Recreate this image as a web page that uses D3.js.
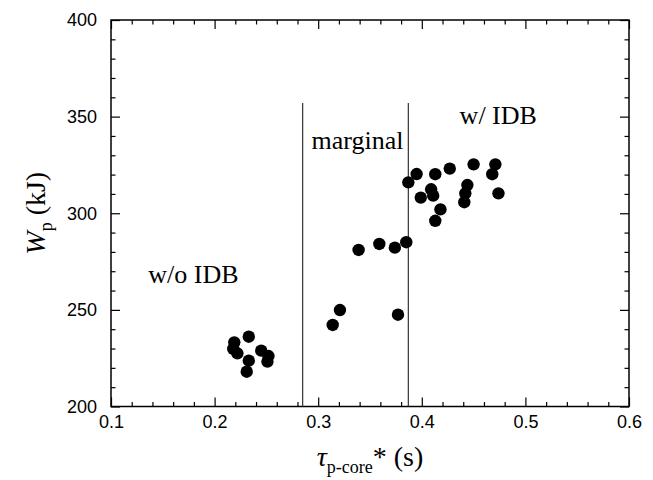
<!DOCTYPE html>
<html>
<head>
<meta charset="utf-8">
<script src="https://cdn.jsdelivr.net/npm/d3@7"></script>
<style>
  body { margin: 0; background: #fff; }
  svg { display: block; }
  .tick text { font-family: "Liberation Sans", Arial, sans-serif; font-size: 18px; fill: #000; }
  .serif { font-family: "Liberation Serif", "Times New Roman", serif; fill: #000; }
</style>
</head>
<body>
<svg id="chart" width="653" height="480"></svg>
<script>
const WIDTH = 653;
const HEIGHT = 480;

// tau_p-core* (s) and W_p (kJ)
const tauValues = [
  0.233, 0.219, 0.218, 0.222, 0.245, 0.252, 0.251, 0.233, 0.231,
  0.339, 0.359, 0.374, 0.385, 0.321, 0.314, 0.377,
  0.387, 0.395, 0.399, 0.413, 0.409, 0.411, 0.418, 0.413, 0.427,
  0.450, 0.471, 0.468, 0.444, 0.442, 0.441, 0.474
];
const wpValues = [
  236.1, 233.2, 229.8, 227.5, 228.9, 226.1, 223.2, 223.7, 218.0,
  281.0, 284.1, 282.2, 285.0, 249.9, 242.2, 247.5,
  316.0, 320.3, 308.1, 320.2, 312.4, 309.1, 302.0, 296.1, 323.1,
  325.3, 325.3, 320.2, 314.6, 310.3, 305.7, 310.3
];

const boundaryX = [0.285, 0.387];
const boundaryTop = 357;

const xTicks = [0.1, 0.2, 0.3, 0.4, 0.5, 0.6];
const yTicks = [200, 250, 300, 350, 400];

const regionLabels = ["w/o IDB", "marginal", "w/ IDB"];
const regionLabelX = [0.136, 0.2935, 0.4365];
const regionLabelY = [264, 333, 346];

const margin = { left: 111, right: 24, top: 20, bottom: 73.5 };

const svg = d3.select("#chart");
const x = d3.scaleLinear().domain([0.1, 0.6]).range([margin.left, WIDTH - margin.right]);
const y = d3.scaleLinear().domain([200, 400]).range([HEIGHT - margin.bottom, margin.top]);

const x0 = x.range()[0], x1 = x.range()[1];
const y0 = y.range()[0], y1 = y.range()[1];

// minor ticks
const xMinor = d3.range(0.1, 0.6001, 0.02).filter(v => Math.abs(v * 10 - Math.round(v * 10)) > 1e-6);
const yMinor = d3.range(200, 401, 10).filter(v => v % 50 !== 0);

function axisStyle(g) {
  g.select(".domain").remove();
  g.selectAll(".tick line").attr("stroke", "#000").attr("stroke-width", 1.2);
}

svg.append("g").attr("transform", `translate(0,${y0})`)
  .call(d3.axisBottom(x).tickValues(xTicks).tickFormat(d3.format(".1f")).tickSize(-9).tickPadding(9))
  .call(axisStyle);
svg.append("g").attr("transform", `translate(0,${y0})`)
  .call(d3.axisBottom(x).tickValues(xMinor).tickFormat("").tickSize(-4.5))
  .call(axisStyle);
svg.append("g").attr("transform", `translate(0,${y1})`)
  .call(d3.axisTop(x).tickValues(xTicks).tickFormat("").tickSize(-9))
  .call(axisStyle);
svg.append("g").attr("transform", `translate(0,${y1})`)
  .call(d3.axisTop(x).tickValues(xMinor).tickFormat("").tickSize(-4.5))
  .call(axisStyle);

svg.append("g").attr("transform", `translate(${x0},0)`)
  .call(d3.axisLeft(y).tickValues(yTicks).tickSize(-9).tickPadding(14))
  .call(axisStyle);
svg.append("g").attr("transform", `translate(${x0},0)`)
  .call(d3.axisLeft(y).tickValues(yMinor).tickFormat("").tickSize(-4.5))
  .call(axisStyle);
svg.append("g").attr("transform", `translate(${x1},0)`)
  .call(d3.axisRight(y).tickValues(yTicks).tickFormat("").tickSize(-9))
  .call(axisStyle);
svg.append("g").attr("transform", `translate(${x1},0)`)
  .call(d3.axisRight(y).tickValues(yMinor).tickFormat("").tickSize(-4.5))
  .call(axisStyle);

svg.selectAll(".tick text").attr("fill", "#000");

// frame
svg.append("rect")
  .attr("x", x0).attr("y", y1)
  .attr("width", x1 - x0).attr("height", y0 - y1)
  .attr("fill", "none").attr("stroke", "#000").attr("stroke-width", 1.5);

// region boundaries
svg.append("g").selectAll("line")
  .data(boundaryX)
  .join("line")
  .attr("x1", d => x(d)).attr("x2", d => x(d))
  .attr("y1", y(boundaryTop)).attr("y2", y0)
  .attr("stroke", "#333").attr("stroke-width", 1.2);

// points
svg.append("g").selectAll("circle")
  .data(tauValues.map((t, i) => [t, wpValues[i]]))
  .join("circle")
  .attr("cx", d => x(d[0]))
  .attr("cy", d => y(d[1]))
  .attr("r", 6.2)
  .attr("fill", "#000");

// region labels
svg.append("g").selectAll("text")
  .data(regionLabels)
  .join("text")
  .attr("class", "serif")
  .attr("x", (d, i) => x(regionLabelX[i]))
  .attr("y", (d, i) => y(regionLabelY[i]))
  .attr("font-size", 26)
  .text(d => d);

// x axis title
const xt = svg.append("text")
  .attr("class", "serif")
  .attr("x", (x0 + x1) / 2)
  .attr("y", 466)
  .attr("text-anchor", "middle")
  .attr("font-size", 28);
xt.append("tspan").attr("font-style", "italic").text("\u03C4");
xt.append("tspan").attr("font-size", 18).attr("dy", 7).text("p-core");
xt.append("tspan").attr("dy", -7).text("* (s)");

// y axis title
const yt = svg.append("text")
  .attr("class", "serif")
  .attr("transform", `translate(45,${(y0 + y1) / 2}) rotate(-90)`)
  .attr("text-anchor", "middle")
  .attr("font-size", 28);
yt.append("tspan").attr("font-style", "italic").text("W");
yt.append("tspan").attr("font-size", 18).attr("dy", 7).text("p");
yt.append("tspan").attr("dy", -7).text(" (kJ)");
</script>
</body>
</html>
